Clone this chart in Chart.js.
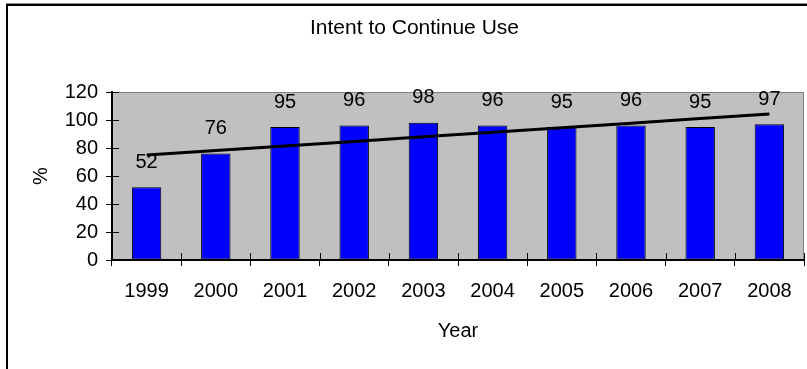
<!DOCTYPE html>
<html>
<head>
<meta charset="utf-8">
<script src="https://cdn.jsdelivr.net/npm/chart.js@4.4.0/dist/chart.umd.min.js"></script>
<style>
  html, body { margin: 0; padding: 0; background: #fff; }
  #wrap { width: 807px; height: 369px; position: relative; }
</style>
</head>
<body>
<div id="wrap"><canvas id="c" width="807" height="369"></canvas></div>
<script>
// Yearly share of respondents intending to continue use (%)
const years = ['1999', '2000', '2001', '2002', '2003', '2004', '2005', '2006', '2007', '2008'];
const intentPct = [52, 76, 95, 96, 98, 96, 95, 96, 95, 97];
const yTickValues = [0, 20, 40, 60, 80, 100, 120];
const chartTitle = 'Intent to Continue Use';
const xAxisTitle = 'Year';
const yAxisTitle = '%';

const FONT = '"Liberation Sans", Arial, Helvetica, sans-serif';

// Ordinary least-squares linear trend through the yearly values
function linearTrend(values) {
  const n = values.length;
  const mx = (n - 1) / 2;
  const my = values.reduce((a, b) => a + b, 0) / n;
  let sxy = 0, sxx = 0;
  values.forEach((v, i) => { sxy += (i - mx) * (v - my); sxx += (i - mx) * (i - mx); });
  const slope = sxy / sxx;
  return values.map((_, i) => my + slope * (i - mx));
}
const trendPct = linearTrend(intentPct);

// Frame around the chart, grey plot area and its outline
const framePlugin = {
  id: 'frame',
  beforeDraw(chart) {
    const { ctx, chartArea: a } = chart;
    ctx.save();
    ctx.fillStyle = '#fff';
    ctx.fillRect(0, 0, chart.width, chart.height);
    // outer frame (left and top edges)
    ctx.fillStyle = '#8a8a8a';
    ctx.fillRect(6, 3, chart.width - 6, 1);
    ctx.fillStyle = '#000';
    ctx.fillRect(6, 4, chart.width - 6, 2);
    ctx.fillRect(6, 4, 2, chart.height - 4);
    // plot area
    ctx.fillStyle = '#c0c0c0';
    ctx.fillRect(a.left, a.top, a.right - a.left, a.bottom - a.top);
    ctx.strokeStyle = '#808080';
    ctx.lineWidth = 1;
    ctx.beginPath();
    ctx.moveTo(a.left, a.top + 0.5);
    ctx.lineTo(a.right - 0.5, a.top + 0.5);
    ctx.lineTo(a.right - 0.5, a.bottom);
    ctx.stroke();
    // chart title
    ctx.fillStyle = '#000';
    ctx.font = '21px ' + FONT;
    ctx.textAlign = 'center';
    ctx.textBaseline = 'middle';
    ctx.fillText(chartTitle, 414.5, 28);
    ctx.restore();
  },
  // tick marks reaching into the plot area (cross-style ticks)
  beforeDatasetsDraw(chart) {
    const { ctx, chartArea: a, scales } = chart;
    ctx.save();
    ctx.strokeStyle = '#000';
    ctx.lineWidth = 1;
    ctx.beginPath();
    const xs = scales.x;
    for (let i = 0; i <= years.length; i++) {
      const px = Math.round(xs.getPixelForValue(i - 0.5)) + 0.5;
      ctx.moveTo(px, a.bottom);
      ctx.lineTo(px, a.bottom - 7);
    }
    yTickValues.forEach(v => {
      const py = Math.round(scales.y.getPixelForValue(v)) + 0.5;
      ctx.moveTo(a.left, py);
      ctx.lineTo(a.left + 7, py);
    });
    ctx.stroke();
    ctx.restore();
  },
  // value labels above each bar of the percentage series
  afterDatasetsDraw(chart) {
    const { ctx } = chart;
    const meta = chart.getDatasetMeta(1);
    ctx.save();
    ctx.fillStyle = '#000';
    ctx.font = '20px ' + FONT;
    ctx.textAlign = 'center';
    ctx.textBaseline = 'middle';
    meta.data.forEach((bar, i) => {
      ctx.fillText(String(intentPct[i]), bar.x, bar.y - 25);
    });
    ctx.restore();
  }
};

new Chart(document.getElementById('c'), {
  type: 'bar',
  data: {
    labels: years,
    datasets: [
      {
        type: 'line',
        label: 'Trend',
        data: trendPct,
        borderColor: '#000',
        borderWidth: 3,
        pointRadius: 0,
        tension: 0,
        fill: false,
        order: 0
      },
      {
        label: 'Intent to Continue Use',
        data: intentPct,
        backgroundColor: '#0000ff',
        borderColor: '#000',
        borderWidth: 1,
        borderSkipped: false,
        categoryPercentage: 1,
        barPercentage: 0.425,
        order: 1
      }
    ]
  },
  options: {
    responsive: false,
    animation: false,
    devicePixelRatio: 1,
    layout: { padding: { left: 8, top: 92, right: 3, bottom: 0 } },
    plugins: {
      legend: { display: false },
      title: { display: false },
      tooltip: { enabled: false }
    },
    scales: {
      x: {
        offset: true,
        grid: { display: true, drawOnChartArea: false, drawTicks: true, tickLength: 6, color: '#000', lineWidth: 1 },
        border: { display: true, color: '#000', width: 2 },
        ticks: { color: '#000', font: { family: FONT, size: 20 }, padding: 13, maxRotation: 0, autoSkip: false },
        title: { display: true, text: xAxisTitle, color: '#000', font: { family: FONT, size: 20 }, padding: { top: 0, bottom: 26 } },
        afterFit(scale) { scale.height = 109; }
      },
      y: {
        min: 0,
        max: 120,
        afterBuildTicks(scale) { scale.ticks = yTickValues.map(v => ({ value: v })); },
        grid: { display: true, drawOnChartArea: false, drawTicks: true, tickLength: 6, color: '#000', lineWidth: 1 },
        border: { display: true, color: '#000', width: 2 },
        ticks: { color: '#000', font: { family: FONT, size: 20 }, padding: 8 },
        title: { display: true, text: yAxisTitle, color: '#000', font: { family: FONT, size: 20 }, padding: { top: 21, bottom: 0 } },
        afterFit(scale) { scale.width = 104; }
      }
    }
  },
  plugins: [framePlugin]
});
</script>
</body>
</html>
